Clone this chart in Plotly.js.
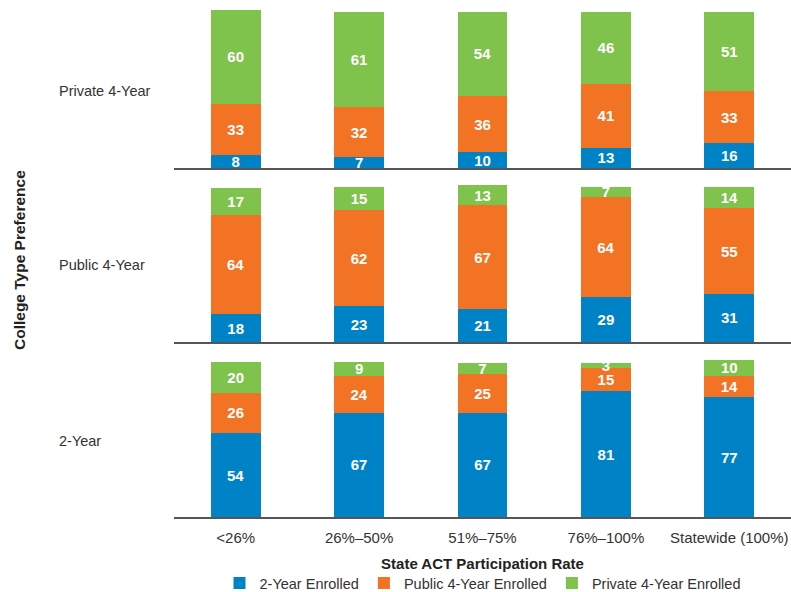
<!DOCTYPE html>
<html>
<head>
<meta charset="utf-8">
<script src="https://cdn.plot.ly/plotly-3.0.1.min.js"></script>
<style>html,body{margin:0;padding:0;background:#fff;}#chart{width:791px;height:592px;}</style>
</head>
<body>
<div id="chart"></div>
<script>
// Data
var categories = ['<26%', '26%–50%', '51%–75%', '76%–100%', 'Statewide (100%)'];
var panelLabels = ['Private 4-Year', 'Public 4-Year', '2-Year'];
var seriesNames = ['2-Year Enrolled', 'Public 4-Year Enrolled', 'Private 4-Year Enrolled'];

// Panel: Private 4-Year preference
var private4_twoYear = [8, 7, 10, 13, 16];
var private4_public4 = [33, 32, 36, 41, 33];
var private4_private4 = [60, 61, 54, 46, 51];

// Panel: Public 4-Year preference
var public4_twoYear = [18, 23, 21, 29, 31];
var public4_public4 = [64, 62, 67, 64, 55];
var public4_private4 = [17, 15, 13, 7, 14];

// Panel: 2-Year preference
var twoYear_twoYear = [54, 67, 67, 81, 77];
var twoYear_public4 = [26, 24, 25, 15, 14];
var twoYear_private4 = [20, 9, 7, 3, 10];

var colors = ['#0083C6', '#F37324', '#7FC24C'];
var FONT = 'Liberation Sans, Arial, sans-serif';

var panels = [
  [private4_twoYear, private4_public4, private4_private4],
  [public4_twoYear, public4_public4, public4_private4],
  [twoYear_twoYear, twoYear_public4, twoYear_private4]
];

var traces = [];
panels.forEach(function (series, p) {
  var ax = p === 0 ? '' : String(p + 1);
  series.forEach(function (vals, s) {
    traces.push({
      type: 'bar',
      x: categories,
      y: vals,
      name: seriesNames[s],
      legendgroup: seriesNames[s],
      showlegend: p === 2,
      xaxis: 'x' + ax,
      yaxis: 'y' + ax,
      marker: {color: colors[s], line: {width: 0}},
      text: vals.map(String),
      textposition: 'inside',
      insidetextanchor: 'middle',
      constraintext: 'none',
      textangle: 0,
      textfont: {family: FONT, size: 15, color: '#ffffff', weight: 'bold'},
      hoverinfo: 'x+y+name'
    });
  });
});

var plotTop = 10, plotBottom = 517, H = plotBottom - plotTop;
function py(pix) { return (plotBottom - pix) / H; }
var domains = [[py(168), 1], [py(342), py(185)], [0, py(360)]];

var baseX = {
  type: 'category',
  range: [-0.5, 4.5],
  showgrid: false,
  zeroline: false,
  showline: true,
  linecolor: '#555555',
  linewidth: 1.5,
  ticks: '',
  fixedrange: true
};
var baseY = {
  range: [0, 101],
  showgrid: false,
  zeroline: false,
  showline: false,
  showticklabels: false,
  ticks: '',
  fixedrange: true
};

function merge(a, b) { var o = {}; for (var k in a) o[k] = a[k]; for (var k2 in b) o[k2] = b[k2]; return o; }

var layout = {
  width: 791,
  height: 592,
  margin: {l: 174, r: 0, t: 10, b: 75, autoexpand: false},
  paper_bgcolor: '#ffffff',
  plot_bgcolor: '#ffffff',
  barmode: 'stack',
  bargap: 0.595,
  font: {family: FONT, color: '#333333', size: 14},
  showlegend: true,
  legend: {
    orientation: 'h',
    x: 0.5, xanchor: 'center',
    y: py(567), yanchor: 'top',
    font: {family: FONT, size: 14.5, color: '#333333'},
    itemwidth: 30,
    traceorder: 'normal'
  },
  xaxis: merge(baseX, {anchor: 'y', showticklabels: false}),
  yaxis: merge(baseY, {domain: domains[0], anchor: 'x'}),
  xaxis2: merge(baseX, {anchor: 'y2', showticklabels: false}),
  yaxis2: merge(baseY, {domain: domains[1], anchor: 'x2'}),
  xaxis3: merge(baseX, {
    anchor: 'y3',
    showticklabels: true,
    ticklabelstandoff: 6,
    tickfont: {family: FONT, size: 15, color: '#333333'},
    title: {text: 'State ACT Participation Rate', font: {family: FONT, size: 15, color: '#222222', weight: 'bold'}, standoff: 14}
  }),
  yaxis3: merge(baseY, {domain: domains[2], anchor: 'x3'}),
  annotations: [
    {text: 'College Type Preference', xref: 'paper', yref: 'paper', x: (19 - 174) / 617, y: py(260),
     xanchor: 'center', yanchor: 'middle', textangle: -90, showarrow: false,
     font: {family: FONT, size: 15.5, color: '#222222', weight: 'bold'}}
  ]
};

var labelY = [py(91), py(265), py(441)];
panelLabels.forEach(function (lbl, i) {
  layout.annotations.push({
    text: lbl, xref: 'paper', yref: 'paper', x: (57 - 174) / 617, y: labelY[i],
    xanchor: 'left', yanchor: 'middle', showarrow: false,
    font: {family: FONT, size: 14.5, color: '#333333'}
  });
});

Plotly.newPlot('chart', traces, layout, {displayModeBar: false, staticPlot: true});
</script>
</body>
</html>
